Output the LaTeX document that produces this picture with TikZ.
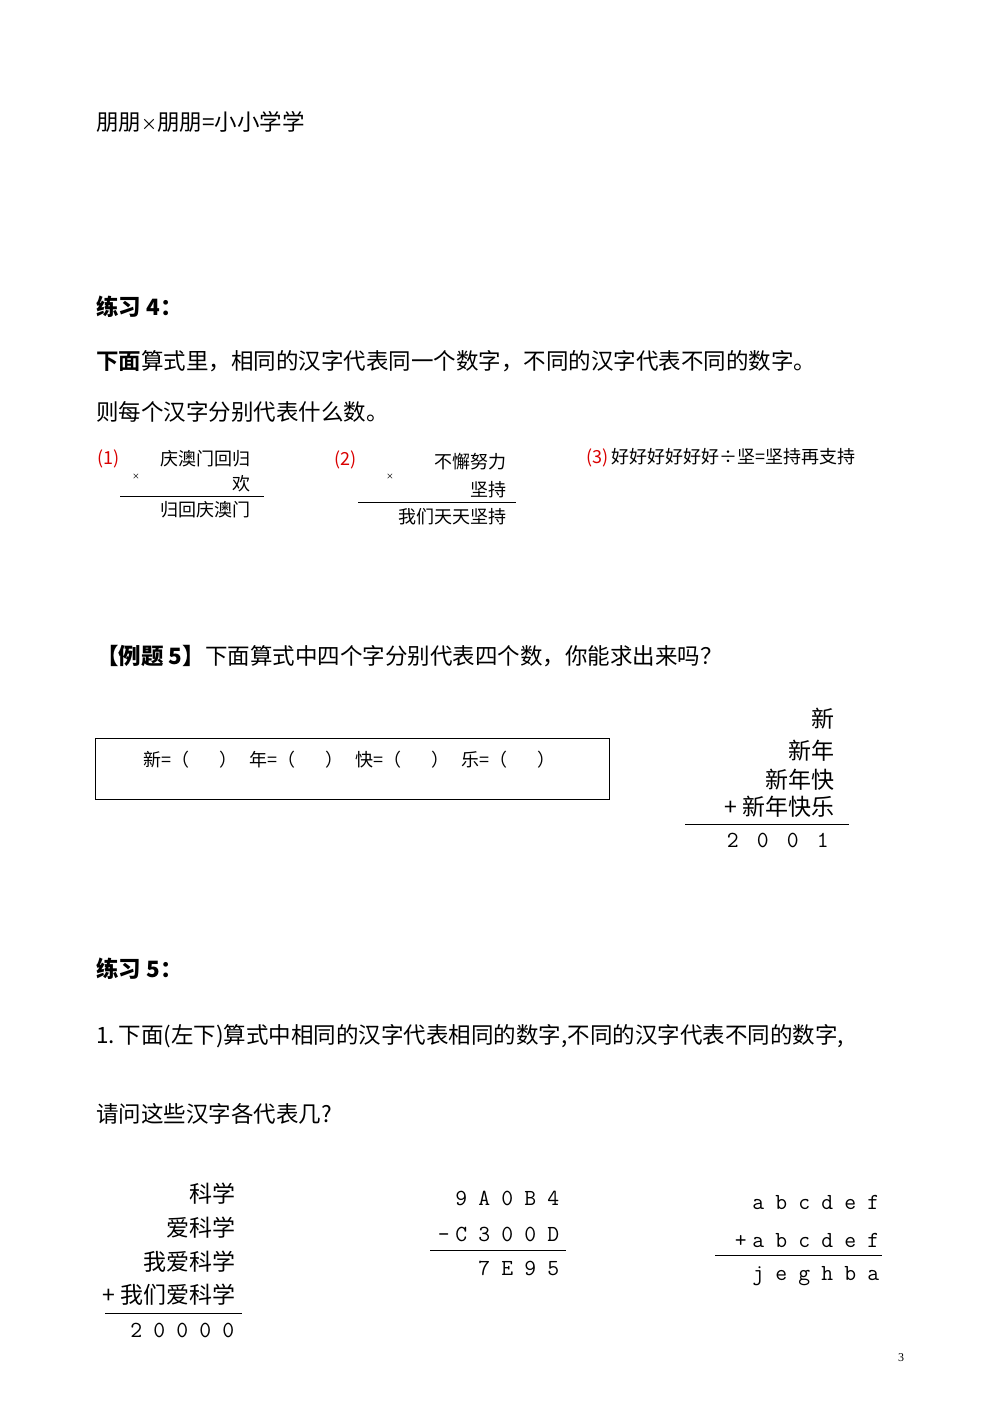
\documentclass[tikz,border=0pt]{standalone}
\usepackage{fontspec}
\setmainfont{Liberation Serif}
\newfontfamily\cjk{Noto Sans CJK SC}
\newfontfamily\cjkb{Noto Sans CJK SC Bold}
\newcommand\cb[1]{\makebox[23pt][c]{#1}}
\begin{document}
\begin{tikzpicture}[x=1pt,y=-1pt,
  t/.style={anchor=west,inner sep=0pt,font=\fontsize{22.5}{24}\selectfont\cjk},
  s/.style={inner sep=0pt,font=\fontsize{18}{20}\selectfont\cjk},
  m/.style={inner sep=0pt,font=\fontsize{23}{24}\selectfont\cjk},
  d/.style={inner sep=0pt,anchor=east,font=\fontsize{23}{24}\selectfont\ttfamily},
  rd/.style={text=red!85!black}]
\useasboundingbox (0,0) rectangle (1000,1414);
\node[t] (a1) at (96,122) {朋朋{\fontsize{16}{16}\selectfont ×}朋朋=小小学学};
\node[t] (a2) at (96,307) {\bfseries 练习 4：};
\node[t] (a3) at (96,361) {{\cjkb 下面}算式里，相同的汉字代表同一个数字，不同的汉字代表不同的数字。};
\node[t] (a4) at (96,412) {则每个汉字分别代表什么数。};
% (1)
\node[s,anchor=west,rd] (p1) at (97,459) {(1)};
\node[s,anchor=east] (p1a) at (251,459) {庆澳门回归};
\node[s,font=\fontsize{12}{12}\selectfont] (p1x) at (136,477) {×};
\node[s,anchor=east] (p1b) at (251,484) {欢};
\draw[line width=0.8pt] (120,496) -- (264,496);
\node[s,anchor=east] (p1c) at (251,510) {归回庆澳门};
% (2)
\node[s,anchor=west,rd] (p2) at (334,460) {(2)};
\node[s,anchor=east] (p2a) at (507,462) {不懈努力};
\node[s,font=\fontsize{12}{12}\selectfont] (p2x) at (390,477) {×};
\node[s,anchor=east] (p2b) at (507,490) {坚持};
\draw[line width=0.8pt] (358,502) -- (516,502);
\node[s,anchor=east] (p2c) at (507,517) {我们天天坚持};
% (3)
\node[s,anchor=west] (p3) at (586,458) {\textcolor{red!85!black}{(3)}\,好好好好好好÷坚=坚持再支持};
% example 5
\node[t] (e5) at (96,656) {{\bfseries 【例题 5】}下面算式中四个字分别代表四个数，你能求出来吗？};
\draw[line width=1pt] (95,738) rectangle (609,799);
\node[s,anchor=west] (bx) at (143,760) {新=（\hspace*{30pt}）\hspace*{12pt}年=（\hspace*{30pt}）\hspace*{12pt}快=（\hspace*{30pt}）\hspace*{12pt}乐=（\hspace*{30pt}）};
\node[m,anchor=east] (r1) at (835,719) {新};
\node[m,anchor=east] (r2) at (835,751) {新年};
\node[m,anchor=east] (r3) at (835,780) {新年快};
\node[m,anchor=east] (r4) at (835,807) {+ 新年快乐};
\draw[line width=0.8pt] (685,824) -- (849,824);
\node[d] (r5) at (838,840) {\makebox[30pt]{2}\makebox[30pt]{0}\makebox[30pt]{0}\makebox[30pt]{1}};
% practice 5
\node[t] (b1) at (96,969) {\bfseries 练习 5：};
\node[t] (b2) at (96,1036) {1.\,下面(左下)算式中相同的汉字代表相同的数字,不同的汉字代表不同的数字,};
\node[t] (b3) at (96,1114) {请问这些汉字各代表几?};
% stack 1
\node[m,anchor=east] (k1) at (236,1194) {科学};
\node[m,anchor=east] (k2) at (236,1228) {爱科学};
\node[m,anchor=east] (k3) at (236,1262) {我爱科学};
\node[m,anchor=east] (k4) at (236,1295) {+ 我们爱科学};
\draw[line width=0.8pt] (105,1313) -- (242,1313);
\node[d] (k5) at (240,1330) {\cb2\cb0\cb0\cb0\cb0};
% stack 2
\node[d] (h1) at (565,1198) {\cb9\cb A\cb0\cb B\cb4};
\node[d] (h2) at (565,1234) {-\cb C\cb3\cb0\cb0\cb D};
\draw[line width=0.8pt] (430,1250) -- (566,1250);
\node[d] (h3) at (565,1268) {\cb7\cb E\cb9\cb5};
% stack 3
\node[d] (c1) at (885,1202) {\cb a\cb b\cb c\cb d\cb e\cb f};
\node[d] (c2) at (885,1240) {+\cb a\cb b\cb c\cb d\cb e\cb f};
\draw[line width=0.8pt] (715,1255) -- (882,1255);
\node[d] (c3) at (885,1276) {\cb j\cb e\cb g\cb h\cb b\cb a};
\node[inner sep=0pt,font=\fontsize{12}{12}\selectfont] (pg) at (901,1358) {3};
\end{tikzpicture}
\end{document}
